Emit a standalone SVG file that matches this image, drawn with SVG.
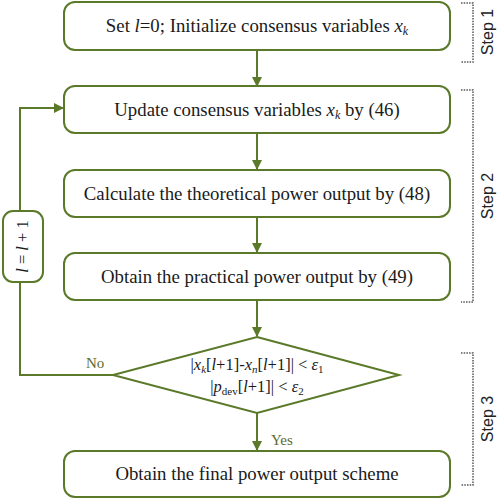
<svg xmlns="http://www.w3.org/2000/svg" width="498" height="500" viewBox="0 0 498 500">
<style>
.box{fill:#fff;stroke:#5a7a2a;stroke-width:2}
.ln{fill:none;stroke:#5a7a2a;stroke-width:2}
.t{font-family:"Liberation Serif",serif;font-size:18.8px;fill:#1a1a1a;text-anchor:middle}
.d{font-family:"Liberation Serif",serif;font-size:16.5px;fill:#1a1a1a;text-anchor:middle}
.lab{font-family:"Liberation Serif",serif;font-size:15px;fill:#5d6b2e}
.br{fill:none;stroke:#555;stroke-width:1.5;stroke-dasharray:1.5 1.2}
.st{font-family:"Liberation Sans",sans-serif;font-size:16px;fill:#222;text-anchor:middle}
.i{font-style:italic}
</style>
<defs>
<marker id="ah" markerWidth="10" markerHeight="10" refX="9" refY="5" orient="auto" markerUnits="userSpaceOnUse">
<path d="M0,0 L10,5 L0,10 z" fill="#5a7a2a"/>
</marker>
</defs>
<g id="connectors">
<line class="ln" x1="257" y1="50" x2="257" y2="86" marker-end="url(#ah)"/>
<line class="ln" x1="257" y1="133" x2="257" y2="169" marker-end="url(#ah)"/>
<line class="ln" x1="257" y1="217" x2="257" y2="252" marker-end="url(#ah)"/>
<line class="ln" x1="257" y1="300" x2="257" y2="336" marker-end="url(#ah)"/>
<line class="ln" x1="257" y1="413" x2="257" y2="450" marker-end="url(#ah)"/>
<polyline class="ln" points="113,375 20,375 20,282"/>
<polyline class="ln" points="20,211 20,108 63,108" marker-end="url(#ah)"/>
<text class="lab" x="86" y="368">No</text>
<text class="lab" x="271" y="445">Yes</text>
</g>
<g id="n1">
<rect class="box" x="64" y="2" width="386" height="48" rx="11"/>
<text class="t" x="257" y="32">Set <tspan class="i">l</tspan>=0; Initialize consensus variables <tspan class="i">x</tspan><tspan class="i" font-size="12" dy="3">k</tspan></text>
</g>
<g id="n2">
<rect class="box" x="64" y="86" width="386" height="47" rx="11"/>
<text class="t" x="257" y="116">Update consensus variables <tspan class="i">x</tspan><tspan class="i" font-size="12" dy="3">k</tspan><tspan dy="-3"> by (46)</tspan></text>
</g>
<g id="n3">
<rect class="box" x="64" y="170" width="386" height="47" rx="11"/>
<text class="t" x="257" y="200">Calculate the theoretical power output by (48)</text>
</g>
<g id="n4">
<rect class="box" x="64" y="253" width="386" height="47" rx="11"/>
<text class="t" x="257" y="283">Obtain the practical power output by (49)</text>
</g>
<g id="n5">
<polygon class="box" points="257,337 399,375 257,413 113,375"/>
<text class="d" x="257" y="370">|<tspan class="i">x</tspan><tspan class="i" font-size="11" dy="3">k</tspan><tspan dy="-3">[</tspan><tspan class="i">l</tspan>+1]-<tspan class="i">x</tspan><tspan class="i" font-size="11" dy="3">n</tspan><tspan dy="-3">[</tspan><tspan class="i">l</tspan>+1]| &lt; <tspan class="i">ε</tspan><tspan font-size="11" dy="3">1</tspan></text>
<text class="d" x="257" y="392">|<tspan class="i">p</tspan><tspan font-size="11" dy="3">dev</tspan><tspan dy="-3">[</tspan><tspan class="i">l</tspan>+1]| &lt; <tspan class="i">ε</tspan><tspan font-size="11" dy="3">2</tspan></text>
</g>
<g id="n6">
<rect class="box" x="64" y="451" width="386" height="46" rx="11"/>
<text class="t" x="257" y="480">Obtain the final power output scheme</text>
</g>
<g id="n7">
<rect class="box" x="3" y="211" width="40" height="71" rx="10"/>
<text class="d" transform="translate(28,246.5) rotate(-90)" x="0" y="0"><tspan class="i">l</tspan> = <tspan class="i">l</tspan> + 1</text>
</g>
<g id="steps">
<polyline class="br" points="461,3 473,3 473,62 461,62"/>
<polyline class="br" points="461,90 473,90 473,302 461,302"/>
<polyline class="br" points="461,353 473,353 473,485 461,485"/>
<text class="st" transform="translate(493,32) rotate(-90)">Step 1</text>
<text class="st" transform="translate(493,196) rotate(-90)">Step 2</text>
<text class="st" transform="translate(493,419) rotate(-90)">Step 3</text>
</g>
</svg>
